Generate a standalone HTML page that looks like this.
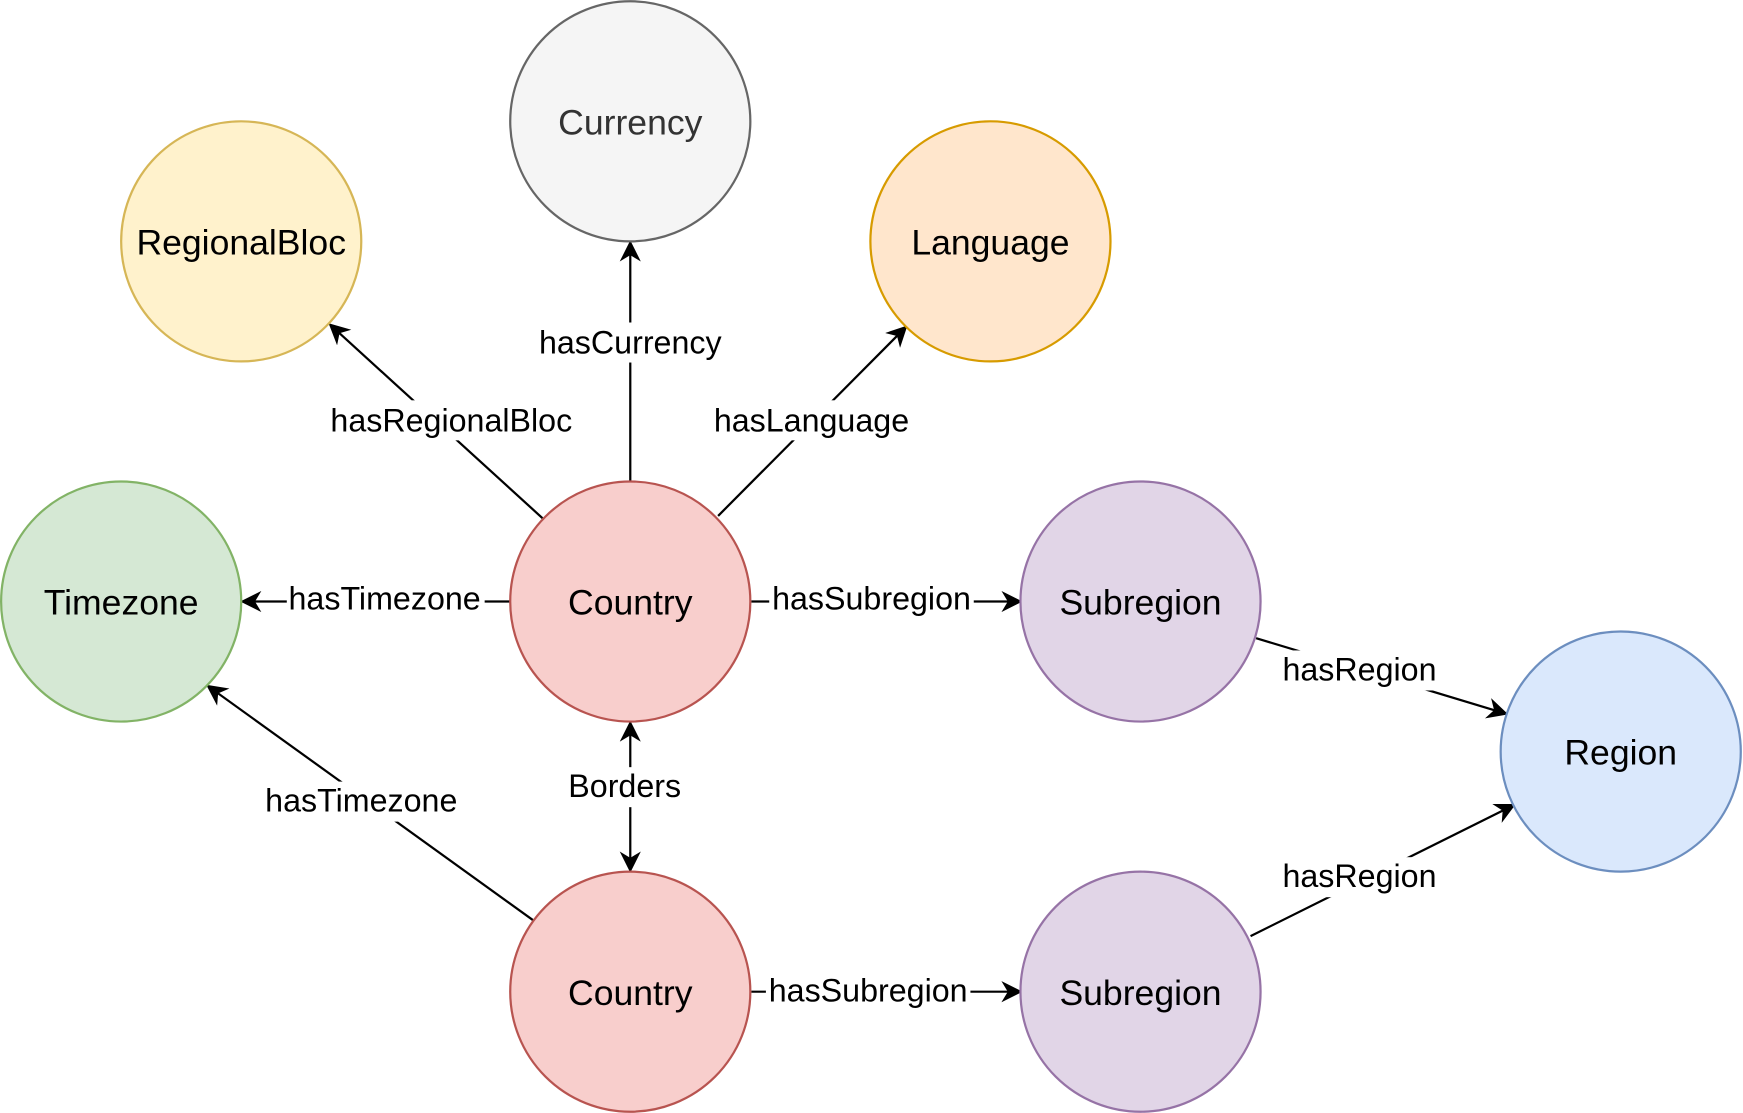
<!DOCTYPE html>
<html><head><meta charset="utf-8"><style>
html,body{margin:0;padding:0;background:#fff;}
svg{display:block;}
text{font-family:"Liberation Sans",Helvetica,Arial,sans-serif;}
</style></head><body>
<svg width="1743" height="1113" viewBox="0 0 1568 1001" xmlns="http://www.w3.org/2000/svg">
<defs>
<marker id="a" viewBox="0 0 10 10" refX="9" refY="5" markerWidth="19" markerHeight="19" markerUnits="userSpaceOnUse" orient="auto-start-reverse">
<path d="M0,0 L10,5 L0,10 L3,5 Z" fill="#000"/>
</marker>
</defs>
<rect width="1568" height="1001" fill="#fff"/>
<g stroke="#000" stroke-width="2" fill="none">
<line x1="488" y1="466" x2="297" y2="292" marker-end="url(#a)"/>
<line x1="567" y1="433" x2="567" y2="218" marker-end="url(#a)"/>
<line x1="646" y1="464" x2="815" y2="294" marker-end="url(#a)"/>
<line x1="459" y1="541" x2="218" y2="541" marker-end="url(#a)"/>
<line x1="676" y1="541" x2="918" y2="541" marker-end="url(#a)"/>
<line x1="1130" y1="574" x2="1355" y2="642" marker-end="url(#a)"/>
<line x1="567" y1="650" x2="567" y2="783" marker-start="url(#a)" marker-end="url(#a)"/>
<line x1="480" y1="828" x2="187" y2="617" marker-end="url(#a)"/>
<line x1="676" y1="892" x2="918" y2="892" marker-end="url(#a)"/>
<line x1="1125" y1="842" x2="1362" y2="724" marker-end="url(#a)"/>
</g>
<g stroke-width="2">
<circle cx="567" cy="109" r="108" fill="#f5f5f5" stroke="#666666"/>
<circle cx="217" cy="217" r="108" fill="#fff2cc" stroke="#d6b656"/>
<circle cx="891" cy="217" r="108" fill="#ffe6cc" stroke="#d79b00"/>
<circle cx="109" cy="541" r="108" fill="#d5e8d4" stroke="#82b366"/>
<circle cx="567" cy="541" r="108" fill="#f8cecc" stroke="#b85450"/>
<circle cx="1026" cy="541" r="108" fill="#e1d5e7" stroke="#9673a6"/>
<circle cx="1458" cy="676" r="108" fill="#dae8fc" stroke="#6c8ebf"/>
<circle cx="567" cy="892" r="108" fill="#f8cecc" stroke="#b85450"/>
<circle cx="1026" cy="892" r="108" fill="#e1d5e7" stroke="#9673a6"/>
</g>
<g font-size="32" text-anchor="middle" dominant-baseline="central">
<text x="567" y="110" fill="#333">Currency</text>
<text x="217" y="218">RegionalBloc</text>
<text x="891" y="218">Language</text>
<text x="109" y="542">Timezone</text>
<text x="567" y="542">Country</text>
<text x="1026" y="542">Subregion</text>
<text x="1458" y="677">Region</text>
<text x="567" y="893">Country</text>
<text x="1026" y="893">Subregion</text>
</g>
<g font-size="29" text-anchor="middle">
<g fill="#fff">
<rect x="292" y="360" width="228" height="36"/>
<rect x="482" y="290" width="170" height="36"/>
<rect x="638" y="360" width="184" height="36"/>
<rect x="258" y="521" width="178" height="36"/>
<rect x="692" y="521" width="184" height="36"/>
<rect x="1150" y="585" width="146" height="36"/>
<rect x="508" y="690" width="108" height="36"/>
<rect x="235" y="703" width="180" height="36"/>
<rect x="689" y="874" width="184" height="36"/>
<rect x="1150" y="771" width="146" height="36"/>
</g>
<text x="406" y="388">hasRegionalBloc</text>
<text x="567" y="318">hasCurrency</text>
<text x="730" y="388">hasLanguage</text>
<text x="346" y="548">hasTimezone</text>
<text x="784" y="548">hasSubregion</text>
<text x="1223" y="612">hasRegion</text>
<text x="562" y="717">Borders</text>
<text x="325" y="730">hasTimezone</text>
<text x="781" y="901">hasSubregion</text>
<text x="1223" y="798">hasRegion</text>
</g>
</svg>
</body></html>
